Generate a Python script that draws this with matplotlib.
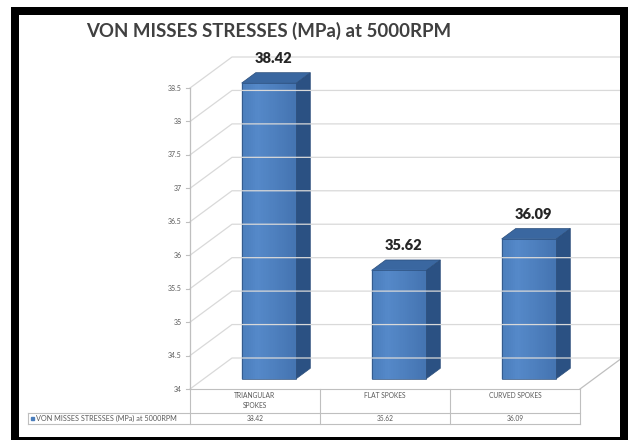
import numpy as np
import matplotlib
matplotlib.use('Agg')
import matplotlib.pyplot as plt
from matplotlib.patches import Polygon, Rectangle
from matplotlib.lines import Line2D
from matplotlib.transforms import IdentityTransform
from matplotlib.colors import to_rgb

plt.rcParams['font.family'] = ['Lato', 'DejaVu Sans']

title = 'VON MISSES STRESSES (MPa) at 5000RPM'
series_name = 'VON MISSES STRESSES (MPa) at 5000RPM'
categories = ['TRIANGULAR\nSPOKES', 'FLAT SPOKES', 'CURVED SPOKES']
stress = [38.42, 35.62, 36.09]
y_ticks = [34, 34.5, 35, 35.5, 36, 36.5, 37, 37.5, 38, 38.5]

W, H = 631, 440
DX, DY = 42, 31          # depth of the 3d box in pixels
bar_w = 0.42
d0, d1 = 1/3, 2/3        # bar depth range
grid_c = '#d9d9d9'
line_c = '#bfbfbf'
ident = IdentityTransform()

fig = plt.figure(figsize=(W/100, H/100), dpi=100)
bg = fig.add_axes([0, 0, 1, 1])
bg.set_xlim(0, W)
bg.set_ylim(H, 0)
bg.axis('off')

ax = fig.add_axes([190/W, 1-389/H, 390/W, 301/H])
ax.set_xlim(0, len(stress))
ax.set_ylim(y_ticks[0], y_ticks[-1])
ax.axis('off')
ax.patch.set_alpha(0)

def px(x, y, d=0.0):
    X, Y = ax.transData.transform((x, y))
    return X + d*DX, Y + d*DY

def seg(pts, **kw):
    ax.add_line(Line2D([p[0] for p in pts], [p[1] for p in pts],
                       transform=ident, clip_on=False, **kw))

n = len(stress)
base = y_ticks[0]

# walls: side wall diagonals + back wall gridlines
for t in y_ticks:
    seg([px(0, t, 0), px(0, t, 1), px(n, t, 1)], color=grid_c, lw=0.9)
    a = px(0, t, 0)
    seg([(a[0]-4, a[1]), a], color=line_c, lw=0.8)
    ax.annotate(f'{t:g}', xy=(0, t), xytext=(-8, 0), textcoords='offset pixels',
                ha='right', va='center', fontsize=5, color='#595959')
seg([px(0, base), px(0, y_ticks[-1])], color=line_c, lw=0.9)
seg([px(n, base, 0), px(n, base, 1)], color=line_c, lw=0.9)

# 3d bars
top_c, side_c, edge_c = '#3a67a0', '#2b5183', '#2a4d7a'
c_l, c_m, c_r = np.array(to_rgb('#4a7dbb')), np.array(to_rgb('#5589c9')), np.array(to_rgb('#4474b1'))
for i, v in enumerate(stress):
    x0, x1 = i + 0.5 - bar_w/2, i + 0.5 + bar_w/2
    side = [px(x1, base, d0), px(x1, base, d1), px(x1, v, d1), px(x1, v, d0)]
    top = [px(x0, v, d0), px(x1, v, d0), px(x1, v, d1), px(x0, v, d1)]
    ax.add_patch(Polygon(side, closed=True, fc=side_c, ec=edge_c, lw=0.5,
                         transform=ident, clip_on=False))
    ax.add_patch(Polygon(top, closed=True, fc=top_c, ec=edge_c, lw=0.5,
                         transform=ident, clip_on=False))
    ns = 24
    xs = np.linspace(x0, x1, ns + 1)
    for k in range(ns):
        f = (k + 0.5) / ns
        c = c_l + (c_m - c_l) * f / 0.3 if f < 0.3 else c_m + (c_r - c_m) * (f - 0.3) / 0.7
        strip = [px(xs[k], base, d0), px(xs[k+1], base, d0), px(xs[k+1], v, d0), px(xs[k], v, d0)]
        ax.add_patch(Polygon(strip, closed=True, fc=c, ec=c, lw=0.3,
                             transform=ident, clip_on=False))
    front = [px(x0, base, d0), px(x1, base, d0), px(x1, v, d0), px(x0, v, d0)]
    ax.add_patch(Polygon(front, closed=True, fill=False, ec=edge_c, lw=0.5,
                         transform=ident, clip_on=False))
    ax.annotate(f'{v:.2f}', xy=(i + 0.5, v), xytext=(18, 35), textcoords='offset pixels',
                ha='center', va='center', fontsize=10.5, fontweight='heavy', color='#262626')

# data table
fig.canvas.draw()
cols = [ax.transData.transform((k, base))[0] for k in range(n + 1)]
t_top = H - ax.transData.transform((0, base))[1]
t_mid, t_bot, lab_left = t_top + 24, t_top + 35, 28
tk = dict(color=line_c, lw=0.8)
bg.plot([cols[0], cols[-1]], [t_top, t_top], **tk)
bg.plot([lab_left, cols[-1]], [t_mid, t_mid], **tk)
bg.plot([lab_left, cols[-1]], [t_bot, t_bot], **tk)
bg.plot([lab_left, lab_left], [t_mid, t_bot], **tk)
for c in cols:
    bg.plot([c, c], [t_top, t_bot], **tk)
for k in range(n):
    cx = (cols[k] + cols[k+1]) / 2
    bg.text(cx, t_top + 3.5, categories[k], ha='center', va='top', fontsize=4.8,
            color='#595959', linespacing=1.4)
    bg.text(cx, (t_mid + t_bot) / 2, f'{stress[k]:.2f}', ha='center', va='center',
            fontsize=4.8, color='#595959')
bg.add_patch(Rectangle((lab_left + 3, (t_mid + t_bot) / 2 - 1.5), 3, 3, color='#4a7dbb'))
bg.text(lab_left + 8, (t_mid + t_bot) / 2, series_name, ha='left', va='center',
        fontsize=5.2, color='#595959')

# title
bg.text(86, 31, title, ha='left', va='center', fontsize=13.4, fontweight='bold',
        color='#404040')

# black frame (display pixels, origin bottom-left)
fig.add_artist(Rectangle((15, -1), 609, 430.5, fill=False, ec='black', lw=8*0.72,
                         transform=ident, zorder=10))

fig.savefig('out.png', dpi=100)
